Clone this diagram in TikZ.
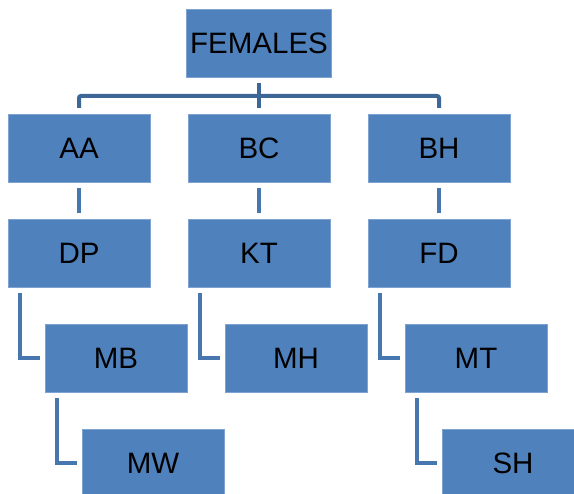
\documentclass[tikz,border=0pt]{standalone}
\usepackage{fontspec}
\setmainfont{Liberation Sans}
\usetikzlibrary{positioning}

\definecolor{boxblue}{HTML}{4F81BD}
\definecolor{boxedge}{HTML}{7EA2D2}
\definecolor{linkdark}{HTML}{3D6797}
\definecolor{linkblue}{HTML}{4876AF}

\begin{document}
\begin{tikzpicture}[x=1pt, y=-1pt, node distance=37pt]

    % Define the styles for the boxes and links
    \tikzstyle{member} = [rectangle, draw=boxedge, line width=0.8pt, fill=boxblue, text centered,
        minimum width=142pt, minimum height=68pt, outer sep=0pt,
        font=\fontsize{29.5}{32}\selectfont]
    \tikzstyle{link} = [draw=linkblue, line width=4pt]

    \useasboundingbox (0,0) rectangle (574,494);

    % Nodes
    \node (females) [member] at (259,43) {FEMALES};
    \node (bc) [member, below=of females] {BC};
    \node (aa) [member, left=38pt of bc] {AA};
    \node (bh) [member, right=38pt of bc] {BH};

    \node (dp) [member, below=of aa] {DP};
    \node (kt) [member, below=of bc] {KT};
    \node (fd) [member, below=of bh] {FD};

    \node (mb) [member, below=of dp, xshift=37pt] {MB};
    \node (mh) [member, below=of kt, xshift=37pt] {MH};
    \node (mt) [member, below=of fd, xshift=37pt] {MT};

    \node (mw) [member, below=of mb, xshift=37pt] {MW};
    \node (sh) [member, below=of mt, xshift=37pt] {SH};

    % Links from the top
    \coordinate (bar) at ([yshift=-19pt]females.south);
    \draw[link, draw=linkdark] ([yshift=-6pt]females.south) -- ([yshift=6pt]bc.north);
    \draw[link, draw=linkdark, rounded corners=2pt] ([yshift=6pt]aa.north) |- (bar) -| ([yshift=6pt]bh.north);

    % Links between rows
    \draw[link] ([yshift=-6pt]aa.south) -- ([yshift=6pt]dp.north);
    \draw[link] ([yshift=-6pt]bc.south) -- ([yshift=6pt]kt.north);
    \draw[link] ([yshift=-6pt]bh.south) -- ([yshift=6pt]fd.north);

    \draw[link] ([xshift=12pt, yshift=-6pt]dp.south west) |- ([xshift=-5pt]mb.west);
    \draw[link] ([xshift=12pt, yshift=-6pt]kt.south west) |- ([xshift=-5pt]mh.west);
    \draw[link] ([xshift=12pt, yshift=-6pt]fd.south west) |- ([xshift=-5pt]mt.west);

    \draw[link] ([xshift=12pt, yshift=-6pt]mb.south west) |- ([xshift=-5pt]mw.west);
    \draw[link] ([xshift=12pt, yshift=-6pt]mt.south west) |- ([xshift=-5pt]sh.west);

\end{tikzpicture}
\end{document}
